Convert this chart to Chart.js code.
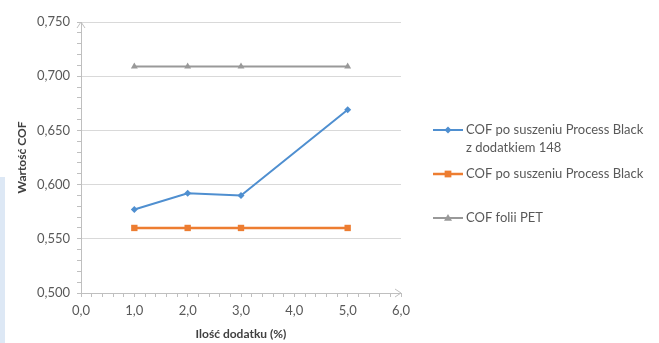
<!DOCTYPE html>
<html>
<head>
<meta charset="utf-8">
<script src="https://cdn.jsdelivr.net/npm/chart.js@4/dist/chart.umd.min.js"></script>
<style>
  html, body { margin: 0; padding: 0; background: #ffffff; }
  #wrap { position: relative; width: 659px; height: 343px; overflow: hidden; }
  #edge { position: absolute; left: 0; top: 177px; width: 5px; height: 166px; background: #dde8f5; }
  canvas { position: absolute; left: 0; top: 0; }
</style>
</head>
<body>
<div id="wrap">
  <div id="edge"></div>
  <canvas id="c" width="659" height="343"></canvas>
</div>
<script>
// Amount of additive (%) at each measurement
const additive = [1, 2, 3, 5];

// Coefficient of friction per series
const cofWithAdditive = [0.577, 0.592, 0.590, 0.669];
const cofProcessBlack = [0.560, 0.560, 0.560, 0.560];
const cofPetFilm      = [0.709, 0.709, 0.709, 0.709];

const seriesLabels = [
  'COF po suszeniu Process Black\nz dodatkiem 148',
  'COF po suszeniu Process Black',
  'COF folii PET'
];

// Axis ranges and labelled steps
const xRange = [0, 6];
const xMajorStep = 1;
const xMinorStep = 0.2;
const yRange = [0.5, 0.75];
const yMajorStep = 0.05;
const yMinorStep = 0.01;

const FONT = 'Lato, "Liberation Sans", sans-serif';
const TEXT = '#595959';
const AXIS = '#bfbfbf';
const GRID = '#d9d9d9';

const pts = ys => additive.map((x, i) => ({ x: x, y: ys[i] }));
const isMultiple = (v, step) => Math.abs(v / step - Math.round(v / step)) < 1e-6;
const pl = (v, d) => v.toFixed(d).replace('.', ',');

// Legend drawn at the right, with two-line labels
const sideLegend = {
  id: 'sideLegend',
  afterDraw(chart, args, opts) {
    const ctx = chart.ctx;
    ctx.save();
    ctx.font = opts.font;
    ctx.fillStyle = TEXT;
    ctx.textBaseline = 'middle';
    ctx.textAlign = 'left';
    chart.data.datasets.forEach((ds, i) => {
      const y = opts.rows[i];
      ctx.strokeStyle = ds.borderColor;
      ctx.lineWidth = ds.borderWidth;
      ctx.beginPath();
      ctx.moveTo(opts.x, y);
      ctx.lineTo(opts.x + opts.lineLen, y);
      ctx.stroke();
      drawMarker(ctx, ds.pointStyle, opts.x + opts.lineLen / 2, y, ds.pointRadius, ds.pointBackgroundColor);
      ds.label.split('\n').forEach((line, k) => {
        ctx.fillStyle = TEXT;
        ctx.fillText(line, opts.x + opts.lineLen + opts.gap, y + k * opts.lineHeight);
      });
    });
    ctx.restore();
  }
};

function drawMarker(ctx, style, x, y, r, color) {
  ctx.fillStyle = color;
  ctx.beginPath();
  if (style === 'rectRot') {
    ctx.moveTo(x, y - r); ctx.lineTo(x + r, y); ctx.lineTo(x, y + r); ctx.lineTo(x - r, y);
  } else if (style === 'rect') {
    ctx.rect(x - r * 0.75, y - r * 0.75, r * 1.5, r * 1.5);
  } else {
    ctx.moveTo(x, y - r); ctx.lineTo(x + r, y + r * 0.7); ctx.lineTo(x - r, y + r * 0.7);
  }
  ctx.closePath();
  ctx.fill();
}

// Open arrowheads at the ends of both axes
const axisArrows = {
  id: 'axisArrows',
  afterDraw(chart) {
    const a = chart.chartArea;
    const ctx = chart.ctx;
    ctx.save();
    ctx.strokeStyle = AXIS;
    ctx.lineWidth = 1;
    ctx.beginPath();
    ctx.moveTo(a.left - 4, a.top + 6); ctx.lineTo(a.left, a.top); ctx.lineTo(a.left + 4, a.top + 6);
    ctx.moveTo(a.right - 6, a.bottom - 4); ctx.lineTo(a.right, a.bottom); ctx.lineTo(a.right - 6, a.bottom + 4);
    ctx.stroke();
    ctx.restore();
  }
};

new Chart(document.getElementById('c'), {
  type: 'line',
  data: {
    datasets: [
      {
        label: seriesLabels[0], data: pts(cofWithAdditive),
        borderColor: '#4f8fd0', backgroundColor: '#4f8fd0', pointBackgroundColor: '#4f8fd0',
        borderWidth: 2, pointStyle: 'rectRot', pointRadius: 3.5, pointBorderWidth: 0
      },
      {
        label: seriesLabels[1], data: pts(cofProcessBlack),
        borderColor: '#ed7d31', backgroundColor: '#ed7d31', pointBackgroundColor: '#ed7d31',
        borderWidth: 2.5, pointStyle: 'rect', pointRadius: 4.5, pointBorderWidth: 0
      },
      {
        label: seriesLabels[2], data: pts(cofPetFilm),
        borderColor: '#999999', backgroundColor: '#999999', pointBackgroundColor: '#999999',
        borderWidth: 2, pointStyle: 'triangle', pointRadius: 4, pointBorderWidth: 0
      }
    ]
  },
  options: {
    responsive: false,
    animation: false,
    layout: { padding: { left: 0, top: 22, right: 258, bottom: 0 } },
    plugins: {
      legend: { display: false },
      tooltip: { enabled: false },
      sideLegend: { x: 433, lineLen: 30, gap: 3, rows: [130, 174, 218], lineHeight: 18, font: '13px ' + FONT }
    },
    scales: {
      x: {
        type: 'linear', min: xRange[0], max: xRange[1],
        afterFit: s => { s.height = 50; },
        border: { display: true, color: AXIS, width: 1 },
        grid: { drawOnChartArea: false, drawTicks: true, tickLength: 4, tickColor: AXIS },
        ticks: {
          stepSize: xMinorStep, autoSkip: false, maxRotation: 0, padding: 6,
          color: TEXT, font: { family: FONT, size: 13 },
          callback: v => isMultiple(v, xMajorStep) ? pl(v, 1) : ''
        },
        title: {
          display: true, text: 'Ilość dodatku (%)', color: '#404040',
          font: { family: FONT, size: 12, weight: 'bold' }, padding: { top: 0, bottom: 2 }
        }
      },
      y: {
        type: 'linear', min: yRange[0], max: yRange[1],
        afterFit: s => { s.width = 81; },
        border: { display: true, color: AXIS, width: 1 },
        grid: {
          drawTicks: true, tickLength: 4, tickColor: AXIS, lineWidth: 1,
          color: c => (c.tick && isMultiple(c.tick.value, yMajorStep)) ? GRID : 'rgba(0,0,0,0)'
        },
        ticks: {
          stepSize: yMinorStep, autoSkip: false, padding: 7,
          color: TEXT, font: { family: FONT, size: 13 },
          callback: v => isMultiple(v, yMajorStep) ? pl(v, 3) : ''
        },
        title: {
          display: true, text: 'Wartość COF', color: '#404040',
          font: { family: FONT, size: 12, weight: 'bold' }, padding: { top: 15, bottom: 0 }
        }
      }
    }
  },
  plugins: [sideLegend, axisArrows]
});
</script>
</body>
</html>
